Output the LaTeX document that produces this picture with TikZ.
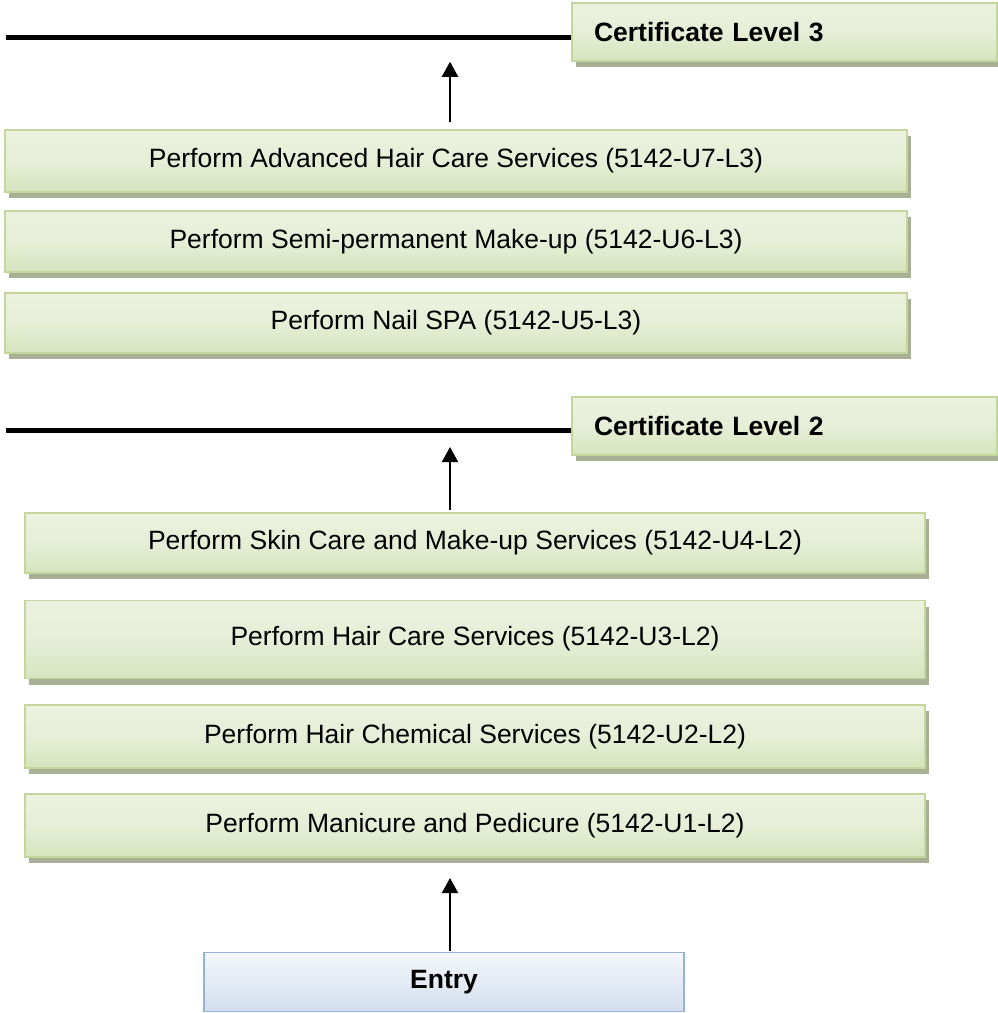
\documentclass[tikz,border=0pt]{standalone}
\usepackage{fontspec}
\setmainfont{Liberation Sans}
\usetikzlibrary{arrows.meta,shadows}
\definecolor{gborder}{HTML}{C3D69B}
\definecolor{gtop}{HTML}{EBF1DE}
\definecolor{gbot}{HTML}{D5E4BC}
\definecolor{gshadow}{HTML}{A7AF95}
\definecolor{btop}{HTML}{F4F7FB}
\definecolor{bbot}{HTML}{D3DFEE}
\definecolor{bborder}{HTML}{95B3D7}
\tikzset{
  unitbox/.style={draw=gborder, line width=1.5pt, top color=gtop, bottom color=gbot,
    middle color=gtop!80!gbot,
    drop shadow={shadow xshift=4pt, shadow yshift=-6pt, fill=gshadow, opacity=1},
    font=\fontsize{26.5}{30}\selectfont, inner sep=0pt},
  certbox/.style={unitbox, font=\fontsize{26.5}{30}\selectfont\bfseries,
    minimum width=425pt, minimum height=58pt, text width=381pt, align=left},
  entrybox/.style={draw=bborder, line width=1.5pt, top color=btop, bottom color=bbot,
    font=\fontsize{26.5}{30}\selectfont\bfseries, minimum width=480pt, minimum height=59pt, inner sep=0pt},
  levelline/.style={line width=5pt},
  uparrow/.style={line width=2pt, -{Triangle[length=15pt,width=16pt]}}
}
\begin{document}
\begin{tikzpicture}[x=1pt,y=-1pt]
\useasboundingbox (0,0) rectangle (998,1013);
% level 3
\node[certbox] (c3) at (784.5,32) {Certificate Level 3};
\node[unitbox, minimum width=902pt, minimum height=62pt] (u7) at (456,161) {Perform Advanced Hair Care Services (5142-U7-L3)};
\node[unitbox, minimum width=902pt, minimum height=61pt] (u6) at (456,241.5) {Perform Semi-permanent Make-up (5142-U6-L3)};
\node[unitbox, minimum width=902pt, minimum height=60pt] (u5) at (456,323) {Perform Nail SPA (5142-U5-L3)};
% level 2
\node[certbox] (c2) at (784.5,426) {Certificate Level 2};
\node[unitbox, minimum width=900pt, minimum height=60pt] (u4) at (475,543) {Perform Skin Care and Make-up Services (5142-U4-L2)};
\node[unitbox, minimum width=900pt, minimum height=78pt, text depth=8pt] (u3) at (475,639.5) {Perform Hair Care Services (5142-U3-L2)};
\node[unitbox, minimum width=900pt, minimum height=63pt] (u2) at (475,736.5) {Perform Hair Chemical Services (5142-U2-L2)};
\node[unitbox, minimum width=900pt, minimum height=63pt] (u1) at (475,825.5) {Perform Manicure and Pedicure (5142-U1-L2)};
% entry
\node[entrybox] (entry) at (444,982) {Entry};
% lines
\coordinate (l3) at (6,37);
\coordinate (l2) at (6,430);
\draw[levelline] (l3) -- (l3 -| c3.west);
\draw[levelline] (l2) -- (l2 -| c2.west);
% arrows
\coordinate (a3) at (450,122);
\coordinate (a2) at (450,510);
\coordinate (a1) at (450,951);
\draw[uparrow] (a3) -- (a3 |- c3.south);
\draw[uparrow] (a2) -- (450,447);
\draw[uparrow] (a1) -- (450,878);
\end{tikzpicture}
\end{document}
